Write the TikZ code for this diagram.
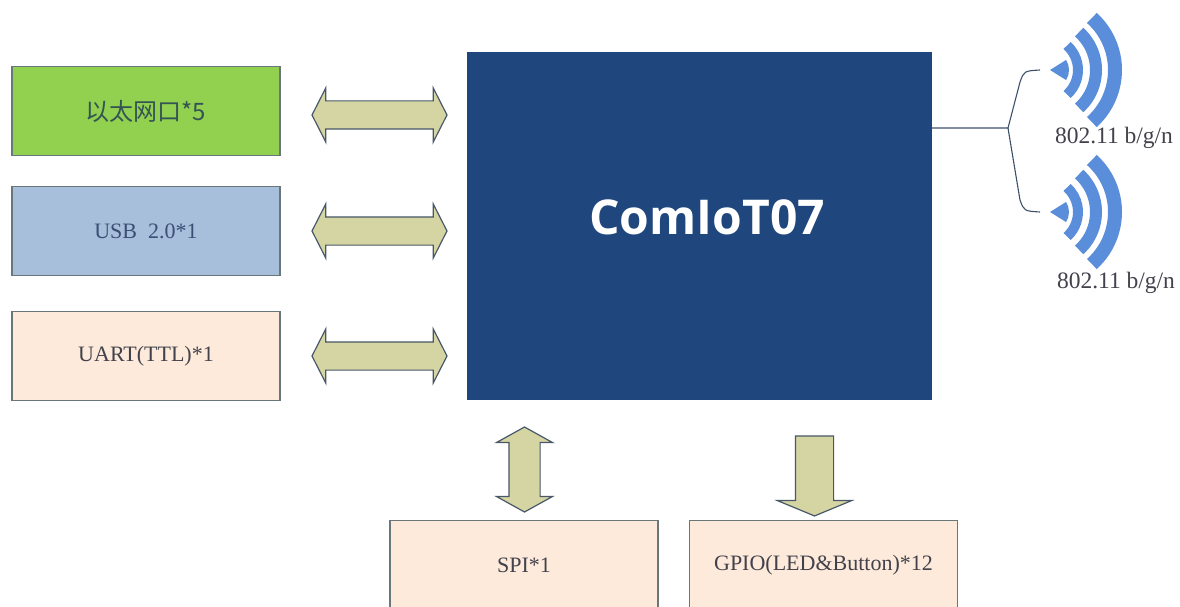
\documentclass[tikz,border=0pt]{standalone}
\usepackage{fontspec}
\setmainfont{Liberation Serif}
\newfontfamily\cjk{Noto Sans CJK SC}
\newfontfamily\headfont{Open Sans}
\usetikzlibrary{calc,shapes.arrows}
\definecolor{ethgreen}{RGB}{146,208,80}
\definecolor{usbblue}{RGB}{167,191,218}
\definecolor{peach}{RGB}{253,234,218}
\definecolor{boxedge}{RGB}{105,118,122}
\definecolor{corefill}{RGB}{31,71,125}
\definecolor{arrowfill}{RGB}{213,212,163}
\definecolor{arrowedge}{RGB}{72,88,104}
\definecolor{wavefill}{RGB}{90,142,218}
\definecolor{wirecol}{RGB}{60,80,105}
\definecolor{lbltext}{RGB}{66,66,76}
\definecolor{ethtext}{RGB}{52,84,84}
\definecolor{usbtext}{RGB}{58,78,118}

\begin{document}
\begin{tikzpicture}[x=1pt,y=-1pt,
  ifbox/.style={draw=boxedge, line width=1.5pt, minimum width=268pt, minimum height=89pt,
    inner sep=0pt, text=lbltext, font=\fontsize{22}{26}\selectfont},
  corebox/.style={draw=corefill, fill=corefill, minimum width=464pt, minimum height=347pt, inner sep=0pt},
  dblarrow/.style={shape=double arrow, draw=arrowedge, fill=arrowfill, line width=1.2pt,
    inner xsep=0pt, inner ysep=13.5pt, minimum height=135pt,
    double arrow head extend=13pt, double arrow tip angle=126},
  dnarrow/.style={shape=single arrow, draw=arrowedge, fill=arrowfill, line width=1.2pt,
    inner xsep=0pt, inner ysep=18.5pt, minimum height=80pt,
    single arrow head extend=18pt, single arrow tip angle=135},
  wire/.style={draw=wirecol, line width=1.1pt},
  wave/.style={wavefill},
  wifilbl/.style={text=lbltext, font=\fontsize{23.5}{27}\selectfont, inner sep=0pt}]
\useasboundingbox (0,0) rectangle (1180,607);

%%%%% interfaces %%%%%
\node[ifbox, fill=ethgreen, text=ethtext, font=\cjk\fontsize{24}{28}\selectfont] (eth) at (146,111) {以太网口*5};
\node[ifbox, fill=usbblue, text=usbtext] (usb) at (146,231) {USB\enspace 2.0*1};
\node[ifbox, fill=peach] (uart) at (146,356) {UART(TTL)*1};

%%%%% core %%%%%
\node[corebox] (core) at (699,225.5) {};
\node[text=white, font=\headfont\bfseries\fontsize{48}{48}\selectfont, inner sep=0pt] (title) at (707,217) {ComIoT07};

%%%%% bus arrows %%%%%
\node[dblarrow] (a-eth) at (379.5,115) {};
\node[dblarrow] (a-usb) at (379.5,231) {};
\node[dblarrow] (a-uart) at (379.5,356) {};

\node[dblarrow, rotate=90, minimum height=85pt, inner ysep=15pt,
  double arrow head extend=12.5pt, double arrow tip angle=122] (a-spi) at (524.5,469.5) {};
\node[dnarrow, rotate=-90] (a-gpio) at (814.5,472) {};

%%%%% lower boxes %%%%%
\node[ifbox, fill=peach] (spi) at (524,565) {SPI*1};
\node[ifbox, fill=peach] (gpio) at (823.5,565) {GPIO(LED\&Button)*12};

%%%%% antennas %%%%%
\coordinate (hub) at (1008,128);
\coordinate (wtop) at (1040,70);
\coordinate (wbot) at (1040,212);
\draw[wire] (core.east |- hub) -- (hub) -- (1020,82) .. controls (1024,71) .. (wtop);
\draw[wire] (hub) -- (1020,200) .. controls (1024,211) .. (wbot);

\foreach \w in {wtop,wbot} {
  \fill[wave] ($(\w)+(10,0)$) -- ++(-32:19pt) arc (-32:32:19pt) -- cycle;
  \draw[wave, line width=10pt] ($(\w)+(5,0)$) ++(-48:33pt) arc (-48:48:33pt);
  \draw[wave, line width=12pt] ($(\w)+(5,0)$) ++(-48:51pt) arc (-48:48:51pt);
  \draw[wave, line width=14pt] ($(\w)+(5,0)$) ++(-48:70pt) arc (-48:48:70pt);
}

\node[wifilbl] (l-top) at (1114,138) {802.11 b/g/n};
\node[wifilbl] (l-bot) at (1116,283) {802.11 b/g/n};

\end{tikzpicture}
\end{document}
